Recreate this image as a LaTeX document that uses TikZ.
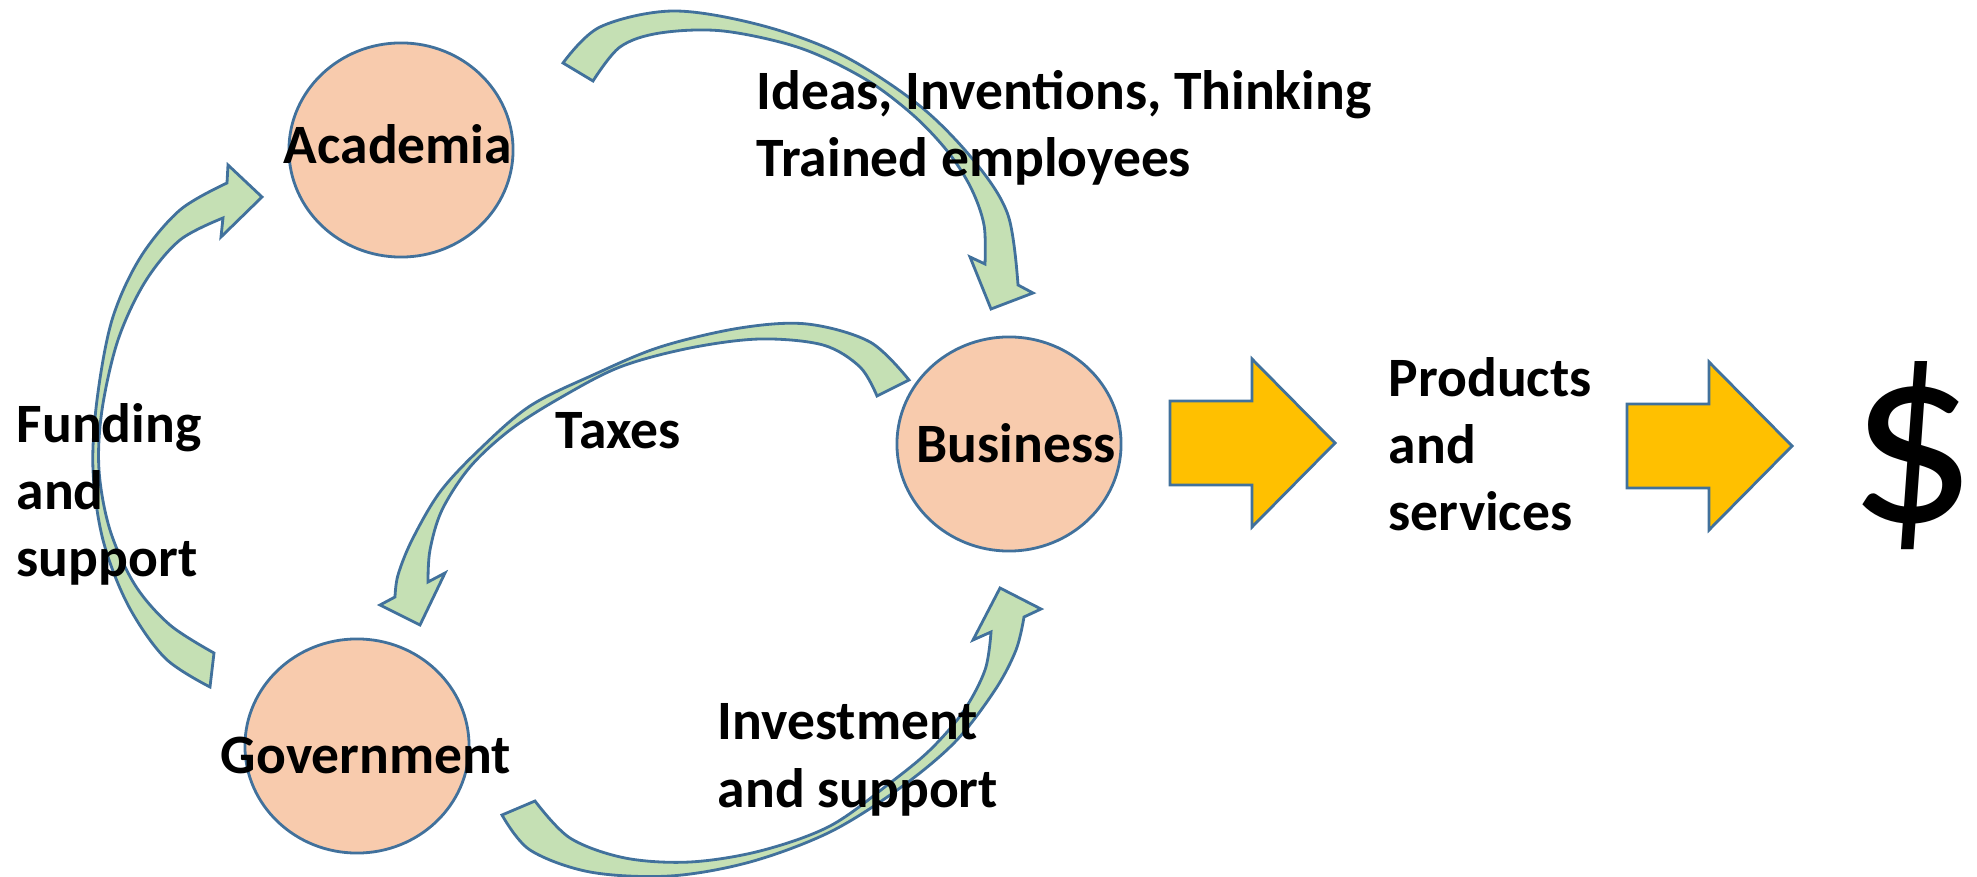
\documentclass[tikz,border=0pt]{standalone}
\usepackage{fontspec}
\setmainfont{Carlito}
\usepackage{tikz}
\usetikzlibrary{shapes.geometric}
\definecolor{nodefill}{HTML}{F8CBAD}
\definecolor{shapeline}{HTML}{41719C}
\definecolor{flowgreen}{HTML}{C5E0B4}
\definecolor{flowgold}{HTML}{FFC000}
\begin{document}
\begin{tikzpicture}[line cap=round,line join=round,x=0.01cm,y=-0.01cm,
  sector/.style={ellipse,draw=shapeline,fill=nodefill,line width=0.8pt,minimum width=2.24cm,minimum height=2.14cm,inner sep=0pt},
  greenflow/.style={draw=shapeline,fill=flowgreen,line width=0.8pt,line join=miter},
  goldarrow/.style={draw=shapeline,fill=flowgold,line width=0.8pt,line join=miter},
  lbl/.style={font=\fontsize{15.8}{19.06}\selectfont\bfseries,inner sep=0pt,align=left}]
\useasboundingbox (0,0) rectangle (1977,877);
% the three sectors
\node[sector] (acad) at (401,150) {};
\node[sector] (bus) at (1009,444) {};
\node[sector] (gov) at (357,746) {};
% academia -> business
\draw[greenflow] plot[smooth,tension=0.55] coordinates {(563,63) (600,27) (673,11) (760,25) (842,55) (920,106) (975,162) (1008,215) (1018,285)}
  -- (1033,293) -- (991,309) -- (970,257) -- (985,264)
  -- plot[smooth,tension=0.55] coordinates {(985,264) (984,225) (971,188) (948,152) (913,115) (865,79) (800,48) (723,31) (660,33) (620,47) (593,81)} -- cycle;
% business -> government
\draw[greenflow] plot[smooth,tension=0.55] coordinates {(909,380) (870,342) (807,324) (740,328) (660,347) (593,375) (530,406) (480,449) (440,492) (412,540) (398,575) (395,597)}
  -- (380,605) -- (420,625) -- (445,573) -- (428,582)
  -- plot[smooth,tension=0.55] coordinates {(428,582) (430,550) (442,510) (470,467) (510,430) (560,398) (620,367) (690,348) (760,339) (823,345) (860,367) (877,396)} -- cycle;
% government -> academia
\draw[greenflow] plot[smooth,tension=0.55] coordinates {(210,687) (165,658) (128,605) (103,540) (93,470) (97,400) (112,320) (140,258) (180,210) (227,183)}
  -- (228,165) -- (262,197) -- (221,237) -- (223,218)
  -- plot[smooth,tension=0.55] coordinates {(223,218) (180,240) (145,282) (118,340) (102,410) (99,470) (110,530) (135,585) (170,625) (214,653)} -- cycle;
% government -> business
\draw[greenflow] plot[smooth,tension=0.55] coordinates {(502,815) (530,850) (590,872) (670,876) (750,862) (830,832) (900,788) (955,742) (995,690) (1016,650) (1024,617)}
  -- (1041,609) -- (1000,588) -- (973,640) -- (991,632)
  -- plot[smooth,tension=0.55] coordinates {(991,632) (985,670) (963,712) (930,750) (890,783) (830,826) (760,851) (690,862) (625,858) (570,838) (535,801)} -- cycle;
% output arrows
\foreach \ax/\ay in {1170/443,1627/446}
\draw[goldarrow,shift={(\ax,\ay)}] (0,-42) -- (82,-42) -- (82,-84) -- (165,0) -- (82,84) -- (82,42) -- (0,42) -- cycle;
% texts
\node[lbl,anchor=base] (acadtext) at (398,164) {Academia};
\node[lbl,anchor=base] (bustext) at (1016,463) {Business};
\node[lbl,anchor=base] (govtext) at (366,773) {Government};
\node[lbl,anchor=base west] (ideas) at (756,177) {Ideas, Inventions, Thinking\\Trained employees};
\node[lbl,anchor=base west] (taxes) at (555,449) {Taxes};
\node[lbl,anchor=base west] (funding) at (16,577) {Funding\\and\\support};
\node[lbl,anchor=base west] (invest) at (717,807) {Investment\\and support};
\node[lbl,anchor=base west] (products) at (1388,531) {Products\\and\\services};
\node[inner sep=0pt,font=\fontsize{72}{76}\selectfont] (dollar) at (1913,456) {\$};
\end{tikzpicture}
\end{document}
